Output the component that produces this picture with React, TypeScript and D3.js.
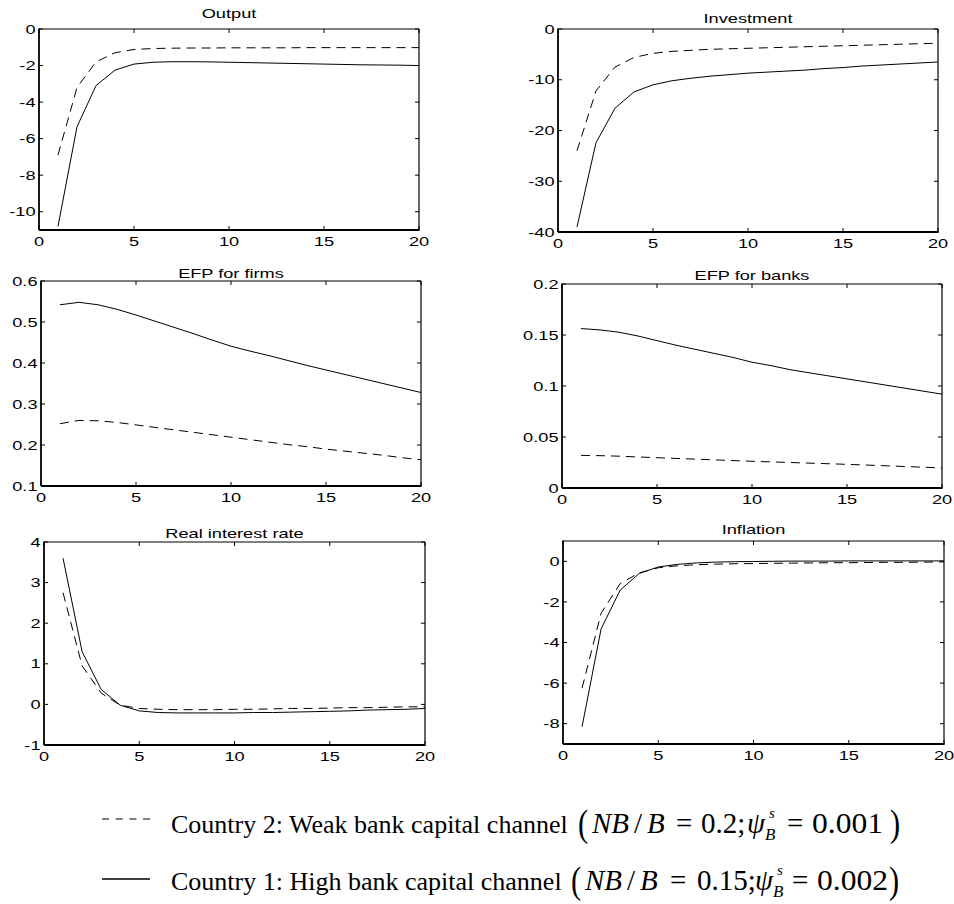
import React from "react";
import * as d3 from "d3";

// ---------- data ----------
const periods = [1, 2, 3, 4, 5, 6, 7, 8, 9, 10, 11, 12, 13, 14, 15, 16, 17, 18, 19, 20];
const xTicks = [0, 5, 10, 15, 20];

const panelTitles = ["Output", "Investment", "EFP for firms", "EFP for banks", "Real interest rate", "Inflation"];

// Country 2: weak bank capital channel (dashed)
const outputWeak = [-6.9, -3.2, -1.8, -1.3, -1.12, -1.07, -1.05, -1.04, -1.04, -1.03, -1.03, -1.03, -1.03, -1.02, -1.02, -1.02, -1.02, -1.02, -1.02, -1.02];
// Country 1: high bank capital channel (solid)
const outputHigh = [-10.8, -5.35, -3.1, -2.25, -1.92, -1.82, -1.79, -1.79, -1.8, -1.82, -1.84, -1.86, -1.88, -1.9, -1.92, -1.94, -1.96, -1.97, -1.98, -2.0];

const investmentWeak = [-24, -12.2, -7.5, -5.6, -4.8, -4.4, -4.2, -4.0, -3.9, -3.8, -3.7, -3.6, -3.5, -3.4, -3.3, -3.2, -3.1, -3.0, -2.9, -2.8];
const investmentHigh = [-39.0, -22.4, -15.6, -12.4, -11.0, -10.2, -9.7, -9.3, -9.0, -8.7, -8.5, -8.3, -8.1, -7.8, -7.6, -7.3, -7.1, -6.9, -6.7, -6.5];

const efpFirmsWeak = [0.252, 0.26, 0.259, 0.255, 0.249, 0.243, 0.237, 0.231, 0.225, 0.219, 0.213, 0.207, 0.201, 0.196, 0.19, 0.185, 0.18, 0.175, 0.169, 0.164];
const efpFirmsHigh = [0.542, 0.548, 0.542, 0.531, 0.517, 0.502, 0.487, 0.472, 0.456, 0.441, 0.429, 0.418, 0.406, 0.394, 0.383, 0.372, 0.361, 0.35, 0.339, 0.328];

const efpBanksWeak = [0.032, 0.0317, 0.0312, 0.0304, 0.0297, 0.029, 0.0283, 0.0276, 0.0269, 0.0262, 0.0256, 0.025, 0.0244, 0.0238, 0.0232, 0.0225, 0.0218, 0.0211, 0.0204, 0.0197];
const efpBanksHigh = [0.1563, 0.155, 0.1527, 0.149, 0.1445, 0.14, 0.136, 0.132, 0.128, 0.1233, 0.12, 0.116, 0.113, 0.11, 0.107, 0.104, 0.101, 0.098, 0.095, 0.092];

const realRateWeak = [2.75, 0.95, 0.28, -0.02, -0.1, -0.12, -0.13, -0.13, -0.13, -0.12, -0.12, -0.11, -0.1, -0.1, -0.09, -0.08, -0.08, -0.07, -0.06, -0.06];
const realRateHigh = [3.6, 1.3, 0.37, -0.02, -0.16, -0.2, -0.21, -0.21, -0.21, -0.21, -0.2, -0.2, -0.19, -0.18, -0.17, -0.16, -0.14, -0.13, -0.12, -0.1];

const inflationWeak = [-6.25, -2.56, -1.1, -0.57, -0.32, -0.22, -0.17, -0.14, -0.12, -0.11, -0.1, -0.09, -0.08, -0.07, -0.07, -0.06, -0.05, -0.05, -0.04, -0.03];
const inflationHigh = [-8.15, -3.33, -1.42, -0.6, -0.28, -0.15, -0.08, -0.04, -0.02, -0.01, 0, 0.01, 0.01, 0.01, 0.02, 0.02, 0.02, 0.02, 0.02, 0.02];

const yDomains: [number, number][] = [[-11, 0], [-40, 0], [0.1, 0.6], [0, 0.2], [-1, 4], [-9, 1]];
const yTickValues = [
  [0, -2, -4, -6, -8, -10],
  [0, -10, -20, -30, -40],
  [0.1, 0.2, 0.3, 0.4, 0.5, 0.6],
  [0, 0.05, 0.1, 0.15, 0.2],
  [-1, 0, 1, 2, 3, 4],
  [0, -2, -4, -6, -8],
];
const weakSeries = [outputWeak, investmentWeak, efpFirmsWeak, efpBanksWeak, realRateWeak, inflationWeak];
const highSeries = [outputHigh, investmentHigh, efpFirmsHigh, efpBanksHigh, realRateHigh, inflationHigh];

const legendLabels = ["Country 2: Weak bank capital channel", "Country 1: High bank capital channel"];
const legendRatios = ["0.2", "0.15"];
const legendPsi = ["0.001", "0.002"];

// ---------- layout ----------
const layout = [
  { l: 39, r: 419, t: 29, b: 230, tb: 18 },
  { l: 558, r: 938, t: 29, b: 232, tb: 23 },
  { l: 41, r: 421, t: 281, b: 486, tb: 278 },
  { l: 562, r: 942, t: 284, b: 488, tb: 280 },
  { l: 44, r: 425, t: 542, b: 745, tb: 538 },
  { l: 563, r: 944, t: 541, b: 744, tb: 534 },
];

// legend text piece positions (x) per row
const legendPos = [
  { base: 833, lineY: 819, paren: 578, nb: 592, slash: 634, b: 647, eq1: 676, ratio: 701, psi: 747, sub: 765, sup: 769, eq2: 787, val: 812, close: 890 },
  { base: 890, lineY: 879, paren: 571, nb: 585, slash: 627, b: 640, eq1: 670, ratio: 697, psi: 755, sub: 773, sup: 777, eq2: 792, val: 817, close: 889 },
];

const SANS = "'Liberation Sans', Arial, Helvetica, sans-serif";
const SERIF = "'Liberation Serif', 'Times New Roman', serif";
const FS = 13;
const SX = 1.4;
const TICK = 4;

function Panel({ i }: { i: number }) {
  const p = layout[i];
  const x = d3.scaleLinear().domain([0, 20]).range([p.l, p.r]);
  const y = d3.scaleLinear().domain(yDomains[i]).range([p.b, p.t]);
  const line = d3
    .line<number>()
    .x((_, k) => x(periods[k]))
    .y((d) => y(d));
  const cx = (p.l + p.r) / 2;
  return (
    <g>
      <text
        transform={`translate(${cx},${p.tb}) scale(${SX},1)`}
        textAnchor="middle"
        fontFamily={SANS}
        fontSize={FS}
        fill="#000"
      >
        {panelTitles[i]}
      </text>
      <path d={line(weakSeries[i]) || ""} fill="none" stroke="#000" strokeWidth={1} strokeDasharray="9,6" />
      <path d={line(highSeries[i]) || ""} fill="none" stroke="#000" strokeWidth={1} />
      {/* box */}
      <line x1={p.l} x2={p.r} y1={p.t} y2={p.t} stroke="#000" strokeWidth={1.2} />
      <line x1={p.r} x2={p.r} y1={p.t} y2={p.b} stroke="#000" strokeWidth={1.2} />
      <line x1={p.l} x2={p.r + 0.6} y1={p.b} y2={p.b} stroke="#000" strokeWidth={1.8} />
      <line x1={p.l} x2={p.l} y1={p.t - 0.6} y2={p.b} stroke="#000" strokeWidth={1.8} />
      {xTicks.map((v) => (
        <g key={"x" + v}>
          <line x1={x(v)} x2={x(v)} y1={p.b} y2={p.b - TICK} stroke="#000" strokeWidth={1} />
          <line x1={x(v)} x2={x(v)} y1={p.t} y2={p.t + TICK} stroke="#000" strokeWidth={1} />
          <text
            transform={`translate(${x(v)},${p.b + 15.5}) scale(${SX},1)`}
            textAnchor="middle"
            fontFamily={SANS}
            fontSize={FS}
            fill="#000"
          >
            {String(v)}
          </text>
        </g>
      ))}
      {yTickValues[i].map((v) => (
        <g key={"y" + v}>
          <line x1={p.l} x2={p.l + TICK} y1={y(v)} y2={y(v)} stroke="#000" strokeWidth={1} />
          <line x1={p.r} x2={p.r - TICK} y1={y(v)} y2={y(v)} stroke="#000" strokeWidth={1} />
          <text
            transform={`translate(${p.l - 3.5},${y(v) + 4.6}) scale(${SX},1)`}
            textAnchor="end"
            fontFamily={SANS}
            fontSize={FS}
            fill="#000"
          >
            {String(v)}
          </text>
        </g>
      ))}
    </g>
  );
}

function LegendRow({ k }: { k: number }) {
  const L = legendPos[k];
  const base = L.base;
  const ms = 29;
  return (
    <g fill="#000">
      <line
        x1={102}
        x2={150}
        y1={L.lineY}
        y2={L.lineY}
        stroke="#000"
        strokeWidth={k === 0 ? 1.2 : 1.6}
        strokeDasharray={k === 0 ? "7,6.7" : undefined}
      />
      <text x={171} y={base} fontFamily={SERIF} fontSize={26}>
        {legendLabels[k]}
      </text>
      <text transform={`translate(${L.paren},${base + 3}) scale(0.8,1)`} fontFamily={SERIF} fontSize={38}>
        (
      </text>
      <text x={L.nb} y={base} fontFamily={SERIF} fontSize={ms} fontStyle="italic">
        NB
      </text>
      <text x={L.slash} y={base} fontFamily={SERIF} fontSize={ms}>
        /
      </text>
      <text x={L.b} y={base} fontFamily={SERIF} fontSize={ms} fontStyle="italic">
        B
      </text>
      <text x={L.eq1} y={base} fontFamily={SERIF} fontSize={ms}>
        =
      </text>
      <text x={L.ratio} y={base} fontFamily={SERIF} fontSize={ms}>
        {legendRatios[k] + ";"}
      </text>
      <text x={L.psi} y={base} fontFamily={SERIF} fontSize={ms} fontStyle="italic">
        ψ
      </text>
      <text x={L.sup} y={base - 15} fontFamily={SERIF} fontSize={15} fontStyle="italic">
        s
      </text>
      <text x={L.sub} y={base + 7} fontFamily={SERIF} fontSize={17} fontStyle="italic">
        B
      </text>
      <text x={L.eq2} y={base} fontFamily={SERIF} fontSize={ms}>
        =
      </text>
      <text x={L.val} y={base} fontFamily={SERIF} fontSize={ms} textLength={71} lengthAdjust="spacingAndGlyphs">
        {legendPsi[k]}
      </text>
      <text transform={`translate(${L.close},${base + 3}) scale(0.8,1)`} fontFamily={SERIF} fontSize={38}>
        )
      </text>
    </g>
  );
}

export default function App() {
  return (
    <svg
      width={954}
      height={904}
      viewBox="0 0 954 904"
      style={{ position: "absolute", left: 0, top: 0, background: "#fff" }}
    >
      <rect x={0} y={0} width={954} height={904} fill="#fff" />
      {layout.map((_, i) => (
        <Panel key={i} i={i} />
      ))}
      <LegendRow k={0} />
      <LegendRow k={1} />
    </svg>
  );
}
